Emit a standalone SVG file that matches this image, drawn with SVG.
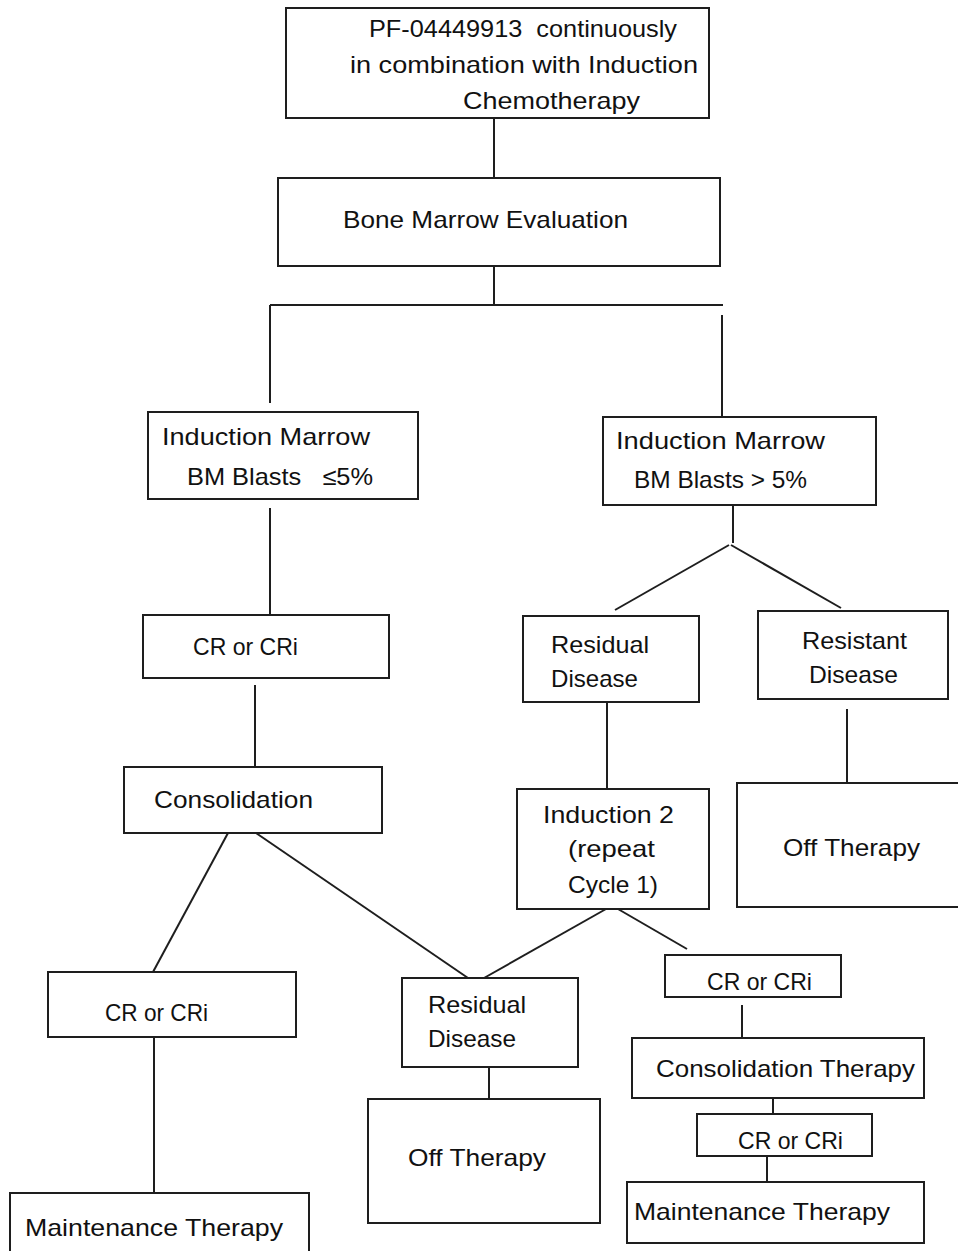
<svg xmlns="http://www.w3.org/2000/svg" width="958" height="1251" viewBox="0 0 958 1251">
<style>
rect.n{fill:#fff;stroke:#1e1e1e;stroke-width:2}
#connectors line{stroke:#1e1e1e;stroke-width:2;fill:none}
text{font-family:"Liberation Sans",Arial,sans-serif;font-size:24px;fill:#111}
</style>
<rect width="958" height="1251" fill="#fff"/>
<g id="connectors">
<line x1="494" y1="118" x2="494" y2="178"/>
<line x1="494" y1="266" x2="494" y2="305"/>
<line x1="270" y1="305" x2="723" y2="305"/>
<line x1="270" y1="305" x2="270" y2="403"/>
<line x1="722" y1="315" x2="722" y2="417"/>
<line x1="270" y1="508" x2="270" y2="615"/>
<line x1="733" y1="505" x2="733" y2="543"/>
<line x1="729" y1="545" x2="615" y2="610"/>
<line x1="731" y1="545" x2="841" y2="608"/>
<line x1="255" y1="685" x2="255" y2="767"/>
<line x1="607" y1="702" x2="607" y2="790"/>
<line x1="847" y1="709" x2="847" y2="783"/>
<line x1="228" y1="833" x2="153" y2="972"/>
<line x1="256" y1="833" x2="468" y2="978"/>
<line x1="606" y1="909" x2="484" y2="978"/>
<line x1="618" y1="909" x2="687" y2="949"/>
<line x1="154" y1="1037" x2="154" y2="1193"/>
<line x1="489" y1="1067" x2="489" y2="1099"/>
<line x1="742" y1="1005" x2="742" y2="1038"/>
<line x1="773" y1="1098" x2="773" y2="1114"/>
<line x1="767" y1="1156" x2="767" y2="1182"/>
</g>
<g id="n-start">
<rect class="n" x="286" y="8" width="423" height="110"/>
<text x="369" y="37" textLength="308" lengthAdjust="spacingAndGlyphs" xml:space="preserve">PF-04449913  continuously</text>
<text x="350" y="73" textLength="348" lengthAdjust="spacingAndGlyphs">in combination with Induction</text>
<text x="463" y="109" textLength="177" lengthAdjust="spacingAndGlyphs">Chemotherapy</text>
</g>
<g id="n-bme">
<rect class="n" x="278" y="178" width="442" height="88"/>
<text x="343" y="228" textLength="285" lengthAdjust="spacingAndGlyphs">Bone Marrow Evaluation</text>
</g>
<g id="n-ind-low">
<rect class="n" x="148" y="412" width="270" height="87"/>
<text x="162" y="445" textLength="208" lengthAdjust="spacingAndGlyphs">Induction Marrow</text>
<text x="187" y="485" textLength="186" lengthAdjust="spacingAndGlyphs" xml:space="preserve">BM Blasts   ≤5%</text>
</g>
<g id="n-ind-high">
<rect class="n" x="603" y="417" width="273" height="88"/>
<text x="616" y="449" textLength="209" lengthAdjust="spacingAndGlyphs">Induction Marrow</text>
<text x="634" y="488" textLength="173" lengthAdjust="spacingAndGlyphs">BM Blasts &gt; 5%</text>
</g>
<g id="n-cr1">
<rect class="n" x="143" y="615" width="246" height="63"/>
<text x="193" y="655" textLength="105" lengthAdjust="spacingAndGlyphs">CR or CRi</text>
</g>
<g id="n-consolidation">
<rect class="n" x="124" y="767" width="258" height="66"/>
<text x="154" y="808" textLength="159" lengthAdjust="spacingAndGlyphs">Consolidation</text>
</g>
<g id="n-residual1">
<rect class="n" x="523" y="616" width="176" height="86"/>
<text x="551" y="653" textLength="98" lengthAdjust="spacingAndGlyphs">Residual</text>
<text x="551" y="687" textLength="87" lengthAdjust="spacingAndGlyphs">Disease</text>
</g>
<g id="n-resistant">
<rect class="n" x="758" y="611" width="190" height="88"/>
<text x="802" y="649" textLength="105" lengthAdjust="spacingAndGlyphs">Resistant</text>
<text x="809" y="683" textLength="89" lengthAdjust="spacingAndGlyphs">Disease</text>
</g>
<g id="n-induction2">
<rect class="n" x="517" y="789" width="192" height="120"/>
<text x="543" y="823" textLength="131" lengthAdjust="spacingAndGlyphs">Induction 2</text>
<text x="568" y="857" textLength="87" lengthAdjust="spacingAndGlyphs">(repeat</text>
<text x="568" y="893" textLength="90" lengthAdjust="spacingAndGlyphs">Cycle 1)</text>
</g>
<g id="n-off1">
<rect class="n" x="737" y="783" width="243" height="124"/>
<text x="783" y="856" textLength="137" lengthAdjust="spacingAndGlyphs">Off Therapy</text>
</g>
<g id="n-cr2">
<rect class="n" x="48" y="972" width="248" height="65"/>
<text x="105" y="1021" textLength="103" lengthAdjust="spacingAndGlyphs">CR or CRi</text>
</g>
<g id="n-maint1">
<rect class="n" x="10" y="1193" width="299" height="80"/>
<text x="25" y="1236" textLength="258" lengthAdjust="spacingAndGlyphs">Maintenance Therapy</text>
</g>
<g id="n-residual2">
<rect class="n" x="402" y="978" width="176" height="89"/>
<text x="428" y="1013" textLength="98" lengthAdjust="spacingAndGlyphs">Residual</text>
<text x="428" y="1047" textLength="88" lengthAdjust="spacingAndGlyphs">Disease</text>
</g>
<g id="n-off2">
<rect class="n" x="368" y="1099" width="232" height="124"/>
<text x="408" y="1166" textLength="138" lengthAdjust="spacingAndGlyphs">Off Therapy</text>
</g>
<g id="n-cr3">
<rect class="n" x="665" y="955" width="176" height="42"/>
<text x="707" y="990" textLength="105" lengthAdjust="spacingAndGlyphs">CR or CRi</text>
</g>
<g id="n-constherapy">
<rect class="n" x="632" y="1038" width="292" height="60"/>
<text x="656" y="1077" textLength="259" lengthAdjust="spacingAndGlyphs">Consolidation Therapy</text>
</g>
<g id="n-cr4">
<rect class="n" x="697" y="1114" width="175" height="42"/>
<text x="738" y="1149" textLength="105" lengthAdjust="spacingAndGlyphs">CR or CRi</text>
</g>
<g id="n-maint2">
<rect class="n" x="627" y="1182" width="297" height="61"/>
<text x="634" y="1220" textLength="256" lengthAdjust="spacingAndGlyphs">Maintenance Therapy</text>
</g>
</svg>
